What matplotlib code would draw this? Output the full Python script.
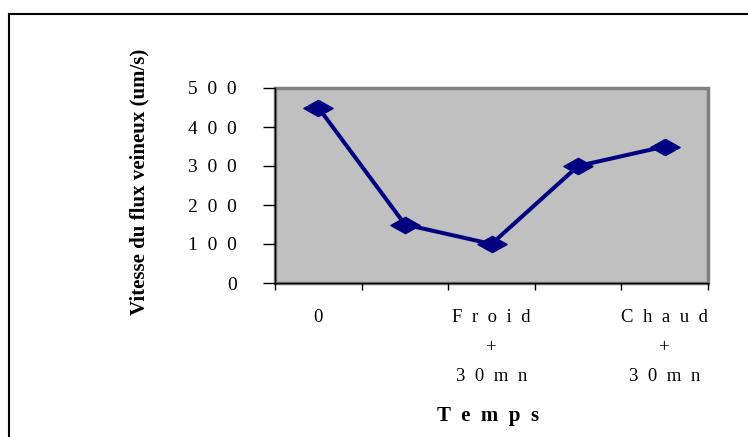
import matplotlib.pyplot as plt
from matplotlib.path import Path
from matplotlib.patches import Rectangle

# Mean venous flow speed at each measurement time
categories = ["0", "", "Froid\n+\n30mn", "", "Chaud\n+\n30mn"]
speeds = [450, 150, 100, 300, 350]
y_ticks = [0, 100, 200, 300, 400, 500]


def spaced(text, gap="  "):
    # wide letter spacing, line by line
    return "\n".join(gap.join(line) for line in text.split("\n"))


plt.rcParams["font.family"] = ["Liberation Serif", "DejaVu Serif"]

fig = plt.figure(figsize=(7.48, 4.37), dpi=100)

# outer chart frame (right and bottom edges fall outside the image)
fig.patches.append(Rectangle((9 / 748, -0.1), 1.2, 1 - 14 / 437 + 0.1,
                             transform=fig.transFigure, fill=False,
                             edgecolor="black", linewidth=1.5))

ax = fig.add_axes([275 / 748, (437 - 283) / 437, 433 / 748, 195 / 437])
ax.set_facecolor("#C0C0C0")

# flattened diamond marker
diamond = Path([(-1, 0), (0, 0.56), (1, 0), (0, -0.56), (-1, 0)],
               [Path.MOVETO, Path.LINETO, Path.LINETO, Path.LINETO, Path.CLOSEPOLY])

x = range(len(speeds))
ax.plot(x, speeds, color="#000080", linewidth=2.9, marker=diamond,
        markersize=21, markerfacecolor="#000080", markeredgecolor="#000080",
        clip_on=False, zorder=5)

ax.set_xlim(-0.5, len(speeds) - 0.5)
ax.set_ylim(0, 500)

# gray plot-area border
ax.add_patch(Rectangle((0, 0), 1, 1, transform=ax.transAxes, fill=False,
                       edgecolor="#808080", linewidth=2.5, clip_on=False, zorder=1))
for side in ["top", "right"]:
    ax.spines[side].set_visible(False)
for side in ["left", "bottom"]:
    ax.spines[side].set_color("black")
    ax.spines[side].set_linewidth(1.0)
    ax.spines[side].set_zorder(3)

ax.set_yticks(y_ticks)
ax.set_yticklabels([spaced(str(v)) for v in y_ticks], fontsize=14)
ax.tick_params(axis="y", direction="out", length=8.6, width=1, pad=19)

# category boundaries carry the ticks, labels sit at the centres
ax.set_xticks([i - 0.5 for i in range(len(speeds) + 1)])
ax.set_xticklabels([])
ax.tick_params(axis="x", which="major", direction="out", length=5, width=1)
ax.set_xticks(list(x), minor=True)
ax.set_xticklabels([spaced(c) for c in categories], minor=True, fontsize=13.5,
                   linespacing=1.95)
ax.tick_params(axis="x", which="minor", length=0, pad=19)

ax.set_ylabel("Vitesse du flux veineux (um/s)", fontsize=15, fontweight="bold")
ax.yaxis.set_label_coords(-0.29, 0.518)
ax.set_xlabel(spaced("Temps"), fontsize=15, fontweight="bold")
ax.xaxis.set_label_coords(0.492, -0.63)

fig.savefig("out.png", dpi=100)
